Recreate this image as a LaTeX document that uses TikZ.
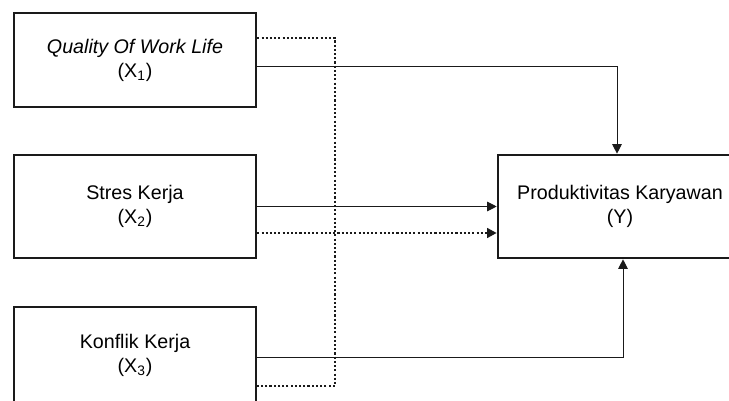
\documentclass[tikz,border=0pt]{standalone}
\usepackage{fontspec}
\setmainfont{Liberation Sans}
\usepackage{xcolor}
\usetikzlibrary{arrows.meta}
\definecolor{vdarkgray}{HTML}{1a1a1a}

\begin{document}
\begin{tikzpicture}[x=0.02cm, y=-0.02cm,
		varbox/.style={draw=vdarkgray, line width=1.5pt, align=center, minimum width=4.84cm, font=\fontsize{11.2}{13.7}\selectfont},
		link/.style={draw=vdarkgray, line width=0.55pt},
		dotlink/.style={draw=vdarkgray, line width=1.4pt, dash pattern=on 1.2pt off 1.2pt},
		tip/.style={-{Triangle[length=5.5pt, width=5.5pt]}}]
		\useasboundingbox (0,0) rectangle (729,401);
		\node[varbox, minimum height=1.88cm] (x1) at (135,60) {\textit{Quality Of Work Life}\\(X\textsubscript{1})};
		\node[varbox, minimum height=2.06cm] (x2) at (135,206.5) {Stres Kerja\\(X\textsubscript{2})};
		\node[varbox, minimum height=1.92cm] (x3) at (135,355) {Konflik Kerja\\(X\textsubscript{3})};
		\node[varbox, minimum width=4.88cm, minimum height=2.06cm] (y) at (620,206.5) {Produktivitas Karyawan\\(Y)};
		\coordinate (s1) at (617,66);
		\coordinate (s2) at (0,206.5);
		\coordinate (s3) at (623,357);
		\coordinate (dtop) at (335,38);
		\coordinate (dmid) at (0,233);
		\coordinate (dbot) at (335,386);
		\draw[link, tip] (x1.east |- s1) -- (s1) -- (s1 |- y.north);
		\draw[link, tip] (x2.east |- s2) -- (y.west |- s2);
		\draw[link, tip] (x3.east |- s3) -- (s3) -- (s3 |- y.south);
		\draw[dotlink] (x1.east |- dtop) -- (dtop) -- (dbot) -- (x3.east |- dbot);
		\draw[dotlink, tip] (x2.east |- dmid) -- (y.west |- dmid);
	\end{tikzpicture}
\end{document}
